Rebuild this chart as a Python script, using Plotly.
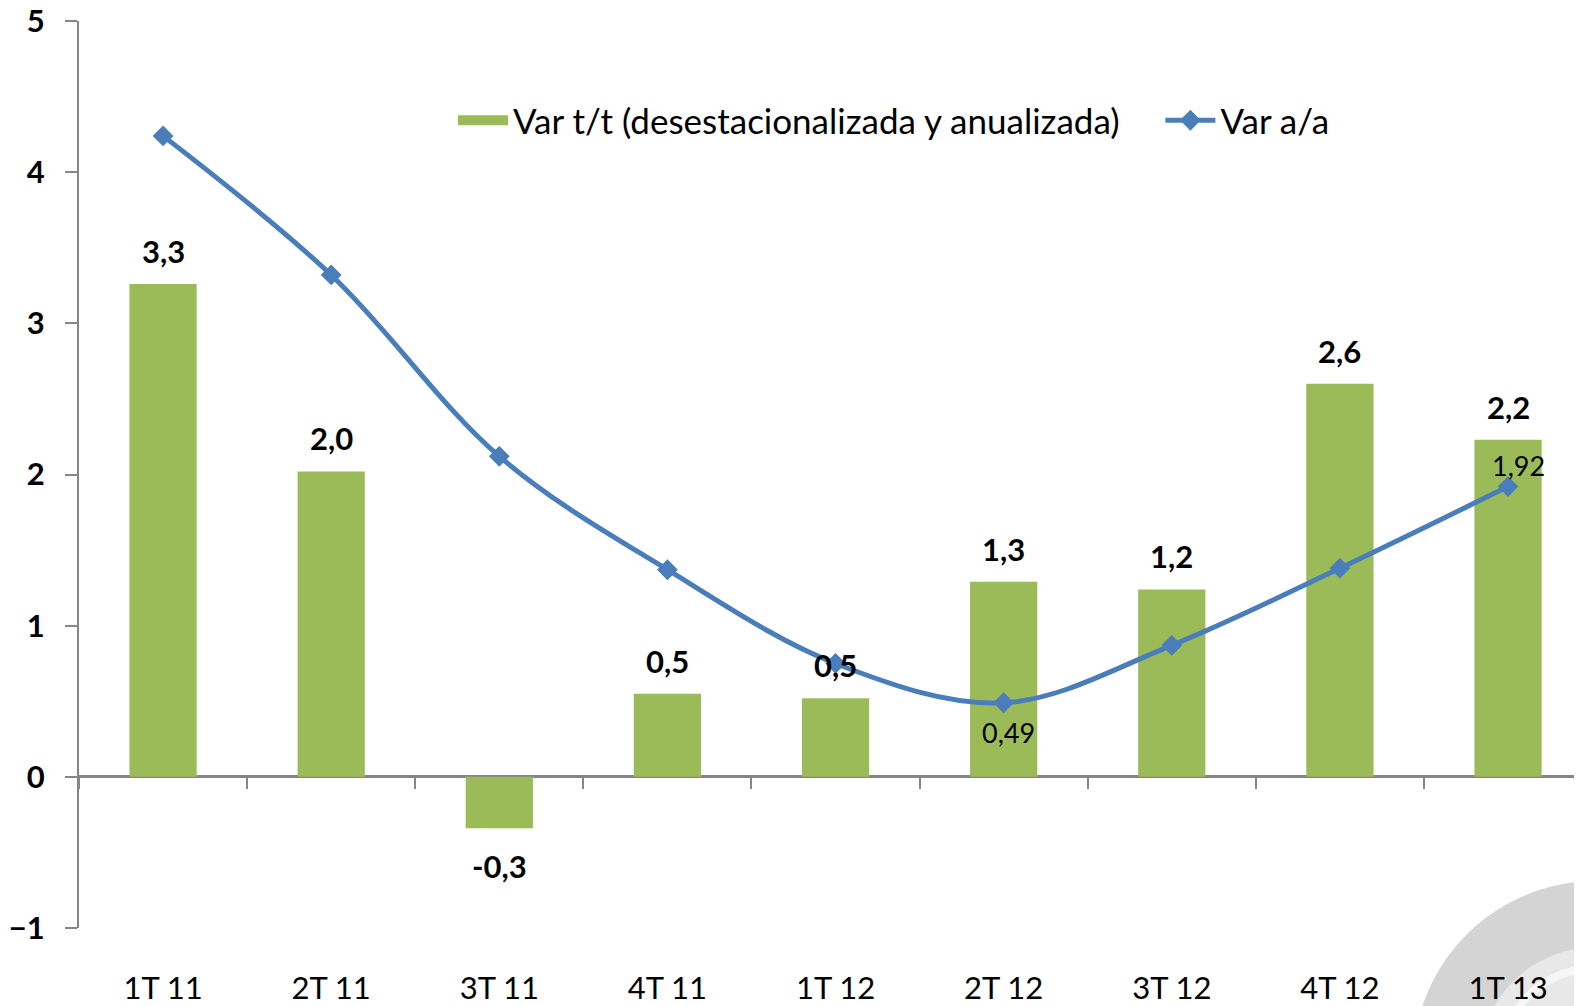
import plotly.graph_objects as go

# Datos
trimestres = ['1T 11', '2T 11', '3T 11', '4T 11', '1T 12', '2T 12', '3T 12', '4T 12', '1T 13']
var_tt = [3.26, 2.02, -0.34, 0.55, 0.52, 1.29, 1.24, 2.60, 2.23]
var_tt_labels = ['3,3', '2,0', '-0,3', '0,5', '0,5', '1,3', '1,2', '2,6', '2,2']
var_aa = [4.24, 3.32, 2.12, 1.37, 0.75, 0.49, 0.87, 1.38, 1.92]
var_aa_labels = ['', '', '', '', '', '0,49', '', '', '1,92']

# la pagina tiene 8px de margen en el body
OFF = 8
W, H = 1582 - OFF, 1006 - OFF
ML, MR, MT, MB = 79 - OFF, 0, 21 - OFF, H - (928 - OFF)
FONT = 'Lato'
GREEN = '#9BBB59'
BLUE = '#4A7EBB'
LEG_TT = 'Var t/t (desestacionalizada y anualizada)' + '\u00a0' * 4

fig = go.Figure()

fig.add_trace(go.Bar(
    x=list(range(len(trimestres))), y=var_tt, name=LEG_TT, showlegend=False,
    marker=dict(color=GREEN, line=dict(width=0)), width=0.4,
))
# entrada de leyenda con rectangulo ancho como en Excel
fig.add_trace(go.Scatter(x=[None], y=[None], mode='lines', name=LEG_TT,
                         line=dict(color=GREEN, width=20), hoverinfo='skip'))

fig.add_trace(go.Scatter(
    x=list(range(len(trimestres))), y=var_aa, name='Var a/a', mode='lines+markers',
    line=dict(color=BLUE, width=5, shape='spline', smoothing=1.0),
    marker=dict(symbol='diamond', size=16, color=BLUE),
))

# etiquetas de las barras
for i, (v, t) in enumerate(zip(var_tt, var_tt_labels)):
    fig.add_annotation(x=i, y=v, text=t, showarrow=False,
                       yshift=33 if v >= 0 else -38,
                       font=dict(family=FONT, size=31, color='black', weight='bold'))

# etiquetas de la linea
for i, (v, t) in enumerate(zip(var_aa, var_aa_labels)):
    if not t:
        continue
    below = i == 5
    fig.add_annotation(x=i, y=v, text=t, showarrow=False,
                       yshift=-30 if below else 21, xshift=5 if below else 10,
                       font=dict(family=FONT, size=27, color='black'))

# marca de agua en la esquina (coordenadas de pantalla)
pw, ph = W - ML - MR, H - MT - MB
def px2paper(px, py):
    return (px - OFF - ML) / pw, (H - MB - (py - OFF)) / ph

cx, cy = 1596, 1064
for r, col in [(183, '#d4d4d4'), (117, '#e8e8e8'), (100, '#f6f6f6'), (92, '#e8e8e8')]:
    x0, y0 = px2paper(cx - r, cy + r)
    x1, y1 = px2paper(cx + r, cy - r)
    fig.add_shape(type='circle', xref='paper', yref='paper', x0=x0, y0=y0, x1=x1, y1=y1,
                  fillcolor=col, line=dict(width=0), layer='below')

zero_pos = (0 - (-1)) / 6

fig.update_layout(
    width=W, height=H,
    margin=dict(l=ML, r=MR, t=MT, b=MB, autoexpand=False),
    plot_bgcolor='rgba(0,0,0,0)', paper_bgcolor='white',
    font=dict(family=FONT, color='black'),
    legend=dict(orientation='h', x=px2paper(453, 0)[0], y=px2paper(0, 91)[1],
                xanchor='left', yanchor='top', font=dict(size=35, family=FONT),
                bgcolor='rgba(0,0,0,0)', itemwidth=50, tracegroupgap=0),
    xaxis=dict(tickvals=list(range(len(trimestres))), ticktext=trimestres,
               range=[-0.5, 8.44], showgrid=False, showline=False, zeroline=False,
               ticks='outside', ticklen=33, tickcolor='rgba(0,0,0,0)', automargin=False,
               ticklabeloverflow='allow', tickfont=dict(size=31, family=FONT)),
    xaxis2=dict(overlaying='x', anchor='free', position=zero_pos, side='bottom',
                range=[-0.5, 8.44], tickvals=[i - 0.5 for i in range(len(trimestres) + 1)],
                showticklabels=False, ticks='outside', ticklen=11, tickwidth=2, automargin=False,
                tickcolor='#868686', showgrid=False, showline=False, zeroline=False),
    yaxis=dict(range=[-1, 5], dtick=1, showgrid=False, zeroline=True, zerolinecolor='#868686',
               zerolinewidth=3, showline=True, linecolor='#868686', linewidth=2,
               ticks='outside', ticklen=12, tickwidth=2, tickcolor='#868686', automargin=False,
               ticklabeloverflow='allow',
               tickfont=dict(size=31, family=FONT, weight='bold'), ticklabelstandoff=14),
    bargap=0.6,
)

# traza invisible para activar el eje secundario
fig.add_trace(go.Scatter(x=[0], y=[0], xaxis='x2', mode='markers', marker=dict(opacity=0),
                         showlegend=False, hoverinfo='skip'))

fig.write_html('out.html')
